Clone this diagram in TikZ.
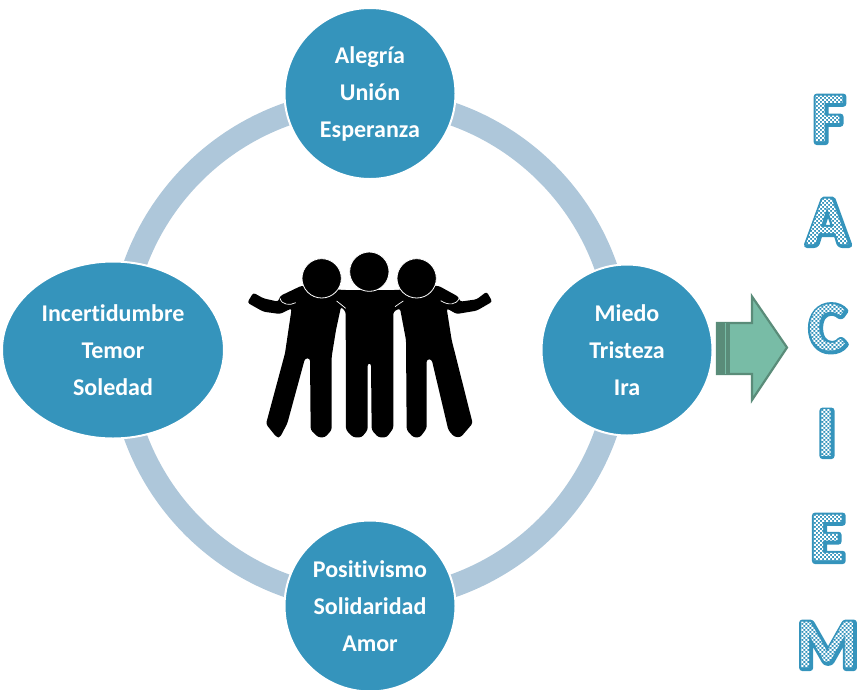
\documentclass[tikz,border=0pt]{standalone}
\usepackage{fontspec}
\setmainfont{Carlito}[Ligatures=NoCommon]
\usetikzlibrary{shapes.geometric,backgrounds,calc}
\definecolor{hub}{HTML}{3594BC}
\definecolor{ringc}{HTML}{AEC7DA}
\definecolor{arrowfill}{HTML}{78BCA6}
\definecolor{arrowline}{HTML}{5A8C79}
\gdef\chk{}
\foreach \ci in {0,...,43}{\foreach \cj in {0,...,35}{%
  \ifodd\numexpr\ci+\cj\relax
    \xdef\chk{\chk \the\numexpr\ci*2-70\relax\space\the\numexpr\cj*2-12\relax\space 2 2 re }%
  \fi}}
\newcommand{\letterglyph}[1]{\setbox0\hbox{#1}%
  \rlap{\raise-1pt\hbox{\kern1pt\special{pdf:code 2 Tr 6 w 1 j 1 J}\copy0\special{pdf:code 0 Tr 1 w}}}%
  \special{pdf:code q 7 Tr}\copy0\special{pdf:content 1 1 1 rg \chk f}\special{pdf:code Q}}
\tikzset{
  x=1pt,y=-1pt,
  hubnode/.style={circle,fill=hub,draw=white,line width=2pt,inner sep=0pt,minimum size=171pt,
    text=white,font=\fontsize{24}{37}\selectfont\bfseries,align=center},
  ovalnode/.style={hubnode,ellipse,minimum width=222pt,minimum height=177pt},
  ringline/.style={ringc,line width=23pt},
  letterbase/.style={anchor=base,inner sep=0pt,text=hub,font=\fontsize{70}{70}\selectfont\bfseries},
}
\begin{document}
\begin{tikzpicture}
\useasboundingbox (0,0) rectangle (861,689);
% hubs
\node[hubnode] (top) at (370,93.5) {Alegría\\Unión\\Esperanza};
\node[hubnode] (right) at (627,350) {Miedo\\Tristeza\\Ira};
\node[hubnode] (bottom) at (370,606) {Positivismo\\Solidaridad\\Amor};
\node[ovalnode] (left) at (113,350) {Incertidumbre\\Temor\\Soledad};
% ring
\coordinate (ringN) at (370,100);
\coordinate (ringE) at (620,350);
\coordinate (ringS) at (370,600);
\coordinate (ringW) at (120,350);
\begin{scope}[on background layer]
\draw[ringline] (ringN) .. controls ($(ringN)+(138,0)$) and ($(ringE)+(0,-138)$) .. (ringE);
\draw[ringline] (ringE) .. controls ($(ringE)+(0,138)$) and ($(ringS)+(138,0)$) .. (ringS);
\draw[ringline] (ringS) .. controls ($(ringS)+(-138,0)$) and ($(ringW)+(0,138)$) .. (ringW);
\draw[ringline] (ringW) .. controls ($(ringW)+(0,-138)$) and ($(ringN)+(-138,0)$) .. (ringN);
\end{scope}
% people
\begin{scope}[shift={(230,240)},x=0.33333pt,y=-0.33333pt]
\fill[black,rounded corners=2.5pt] (70,158) -- (100,175) -- (145,185) -- (150,168) -- (215,137)
 -- (340,150) -- (500,150) -- (625,137) -- (685,170) -- (690,185) -- (740,178) -- (770,155)
 -- (787,185) -- (740,212) -- (680,222) -- (650,205) -- (665,300) -- (728,550) -- (692,592)
 -- (672,590) -- (655,570) -- (605,358) -- (590,358) -- (590,565) -- (570,592) -- (550,592)
 -- (530,570) -- (528,300) -- (510,205) -- (490,215) -- (490,565) -- (470,592) -- (445,592)
 -- (425,570) -- (423,370) -- (413,370) -- (413,570) -- (395,592) -- (370,592) -- (348,570)
 -- (347,215) -- (333,200) -- (318,270) -- (305,350) -- (305,570) -- (285,592) -- (265,592)
 -- (242,570) -- (240,355) -- (225,355) -- (172,550) -- (150,592) -- (140,592) -- (108,552)
 -- (165,340) -- (185,205) -- (150,222) -- (100,215) -- (52,188) -- cycle;
\draw[white,line width=0.7pt] (150,175) .. controls (155,195) and (180,197) .. (197,188);
\draw[white,line width=0.7pt] (687,175) .. controls (680,195) and (655,197) .. (632,182);
\draw[white,line width=0.7pt] (320,183) -- (335,195) -- (347,205);
\draw[white,line width=0.7pt] (520,183) -- (505,193) -- (495,200);
\fill[black,draw=white,line width=0.8pt] (275,115) circle[radius=59];
\fill[black,draw=white,line width=0.8pt] (560,115) circle[radius=59];
\fill[black,draw=white,line width=0.8pt] (418,95) circle[radius=59];
\end{scope}
% arrow
\fill[arrowfill,draw=arrowline,line width=2.2pt,line join=miter] (717,323) -- (752,323) -- (752,296.5) -- (787,347.5) -- (752,400) -- (752,374) -- (717,374) -- cycle;
\fill[arrowline] (717,323) rectangle (730,374);
\draw[arrowfill,line width=0.7pt] (725,323) -- (725,374);
% letters
\foreach \nm/\ch/\cx/\by in {lf/F/828/141,la/A/827/244,lc/C/827/350,li/I/826/455,le/E/827/560,lm/M/827/667}{
  \node[letterbase] (\nm) at (\cx,\by) {\letterglyph{\ch}};
}
\end{tikzpicture}
\end{document}
